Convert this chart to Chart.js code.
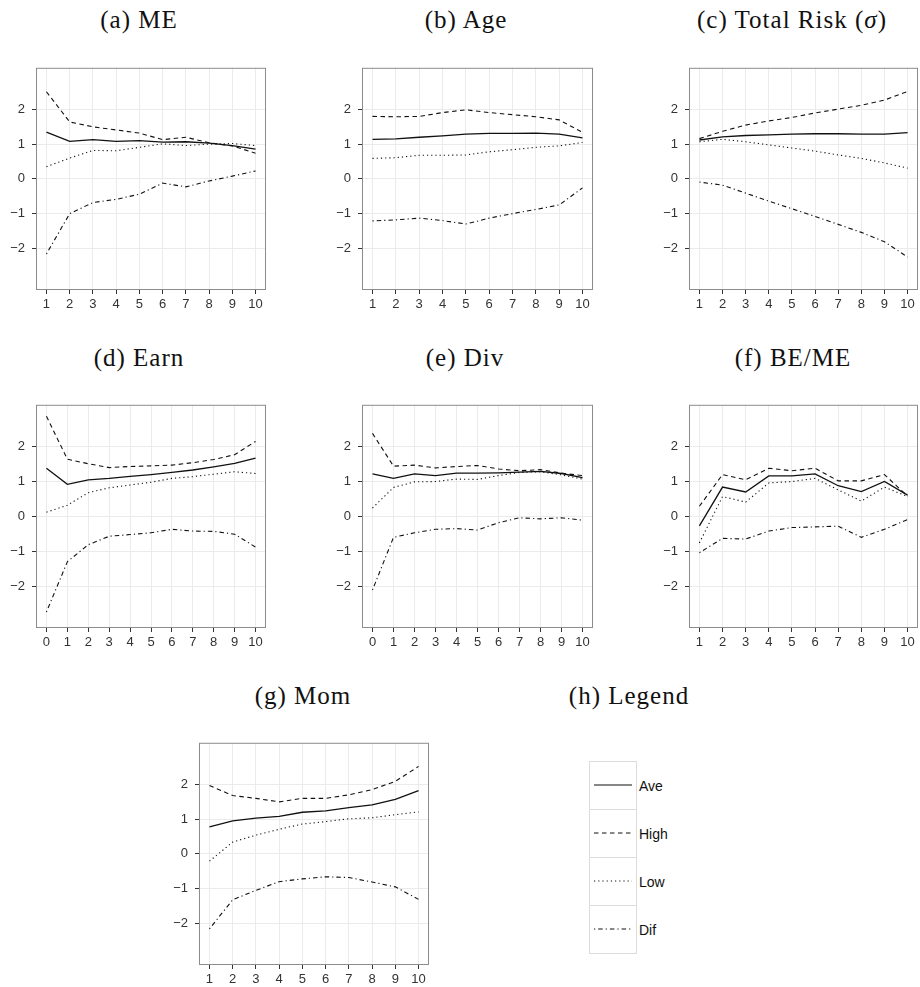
<!DOCTYPE html>
<html>
<head>
<meta charset="utf-8">
<script src="https://cdn.jsdelivr.net/npm/chart.js@4.4.1/dist/chart.umd.min.js"></script>
<style>
body { margin: 0; background: #fff; width: 920px; height: 987px; position: relative; overflow: hidden; }
.panel { position: absolute; }
.title { position: absolute; width: 300px; text-align: center; font-family: "Liberation Serif", serif; font-size: 25px; line-height: 25px; letter-spacing: 1px; color: #111; white-space: nowrap; }
#legendBox { position: absolute; left: 589px; top: 761px; width: 48px; height: 193px; box-sizing: border-box; border: 1px solid #dcdcdc; }
#legendBox div { height: 48px; box-sizing: border-box; border-bottom: 1px solid #dcdcdc; }
#legendBox div:last-child { border-bottom: none; }
.legLine { position: absolute; left: 594px; width: 38px; height: 4px; }
.legText { position: absolute; left: 639px; font-family: "Liberation Sans", Arial, sans-serif; font-size: 14px; line-height: 16px; color: #111; }
</style>
</head>
<body>
<div class="title" style="left:-11px;top:7px">(a) ME</div>
<div class="title" style="left:316px;top:7px">(b) Age</div>
<div class="title" style="left:642px;top:7px">(c) Total Risk (<i>σ</i>)</div>
<div class="title" style="left:-11px;top:345px">(d) Earn</div>
<div class="title" style="left:315px;top:345px">(e) Div</div>
<div class="title" style="left:643px;top:345px">(f) BE/ME</div>
<div class="title" style="left:153px;top:683px">(g) Mom</div>
<div class="title" style="left:479px;top:683px">(h) Legend</div>

<div id="legendBox"><div></div><div></div><div></div><div></div></div>
<svg class="legLine" style="top:783px"><line x1="0" y1="2" x2="38" y2="2" stroke="#111" stroke-width="1.2"/></svg>
<svg class="legLine" style="top:831px"><line x1="0" y1="2" x2="38" y2="2" stroke="#111" stroke-width="1.1" stroke-dasharray="4.5 3.5"/></svg>
<svg class="legLine" style="top:879px"><line x1="0" y1="2" x2="38" y2="2" stroke="#111" stroke-width="1.1" stroke-dasharray="1.2 3"/></svg>
<svg class="legLine" style="top:927px"><line x1="0" y1="2" x2="38" y2="2" stroke="#111" stroke-width="1.1" stroke-dasharray="1.2 3 4.5 3"/></svg>
<div class="legText" style="top:778px">Ave</div>
<div class="legText" style="top:826px">High</div>
<div class="legText" style="top:874px">Low</div>
<div class="legText" style="top:922px">Dif</div>

<script>
// deciles / portfolio numbers on the x axis
var xTen = [1, 2, 3, 4, 5, 6, 7, 8, 9, 10];
var xEleven = [0, 1, 2, 3, 4, 5, 6, 7, 8, 9, 10];
var yTicks = [-2, -1, 0, 1, 2];

// (a) ME
var meAve  = [1.35, 1.08, 1.13, 1.08, 1.10, 1.06, 1.07, 1.03, 0.96, 0.86];
var meHigh = [2.51, 1.64, 1.50, 1.41, 1.32, 1.13, 1.20, 1.04, 0.95, 0.74];
var meLow  = [0.35, 0.60, 0.82, 0.81, 0.91, 1.01, 0.96, 1.00, 1.02, 0.96];
var meDif  = [-2.16, -1.00, -0.68, -0.59, -0.44, -0.12, -0.23, -0.06, 0.08, 0.23];

// (b) Age
var ageAve  = [1.14, 1.15, 1.20, 1.24, 1.29, 1.31, 1.31, 1.32, 1.29, 1.18];
var ageHigh = [1.80, 1.79, 1.80, 1.91, 1.99, 1.91, 1.85, 1.79, 1.70, 1.34];
var ageLow  = [0.59, 0.61, 0.68, 0.68, 0.69, 0.78, 0.84, 0.91, 0.95, 1.05];
var ageDif  = [-1.21, -1.18, -1.13, -1.20, -1.30, -1.13, -1.00, -0.88, -0.75, -0.26];

// (c) Total Risk
var riskAve  = [1.12, 1.21, 1.25, 1.27, 1.29, 1.30, 1.30, 1.29, 1.29, 1.33];
var riskHigh = [1.16, 1.37, 1.55, 1.67, 1.77, 1.90, 2.01, 2.12, 2.27, 2.52];
var riskLow  = [1.07, 1.14, 1.07, 0.98, 0.89, 0.80, 0.69, 0.59, 0.46, 0.31];
var riskDif  = [-0.09, -0.18, -0.41, -0.64, -0.86, -1.08, -1.31, -1.54, -1.81, -2.25];

// (d) Earn
var earnAve  = [1.38, 0.92, 1.05, 1.09, 1.15, 1.20, 1.26, 1.33, 1.42, 1.52, 1.67];
var earnHigh = [2.87, 1.64, 1.51, 1.40, 1.43, 1.45, 1.47, 1.54, 1.63, 1.77, 2.15];
var earnLow  = [0.12, 0.32, 0.68, 0.82, 0.90, 0.98, 1.09, 1.14, 1.21, 1.28, 1.23];
var earnDif  = [-2.74, -1.30, -0.81, -0.57, -0.52, -0.47, -0.37, -0.42, -0.43, -0.51, -0.88];

// (e) Div
var divAve  = [1.22, 1.09, 1.22, 1.17, 1.24, 1.24, 1.25, 1.27, 1.29, 1.23, 1.11];
var divHigh = [2.38, 1.44, 1.47, 1.39, 1.43, 1.46, 1.36, 1.31, 1.34, 1.24, 1.17];
var divLow  = [0.24, 0.83, 0.99, 1.00, 1.07, 1.06, 1.17, 1.26, 1.28, 1.19, 1.07];
var divDif  = [-2.11, -0.60, -0.47, -0.37, -0.35, -0.39, -0.18, -0.04, -0.07, -0.04, -0.11];

// (f) BE/ME
var bmAve  = [-0.27, 0.84, 0.70, 1.16, 1.16, 1.22, 0.88, 0.71, 1.00, 0.61];
var bmHigh = [0.29, 1.20, 1.05, 1.38, 1.31, 1.38, 1.02, 1.02, 1.20, 0.58];
var bmLow  = [-0.76, 0.57, 0.41, 0.96, 1.00, 1.09, 0.76, 0.44, 0.84, 0.57];
var bmDif  = [-1.04, -0.63, -0.65, -0.42, -0.32, -0.30, -0.28, -0.60, -0.37, -0.09];

// (g) Mom
var momAve  = [0.78, 0.95, 1.03, 1.08, 1.20, 1.24, 1.33, 1.41, 1.57, 1.82];
var momHigh = [1.97, 1.68, 1.60, 1.50, 1.60, 1.60, 1.70, 1.85, 2.09, 2.52];
var momLow  = [-0.21, 0.34, 0.54, 0.71, 0.86, 0.93, 1.01, 1.04, 1.13, 1.21];
var momDif  = [-2.16, -1.32, -1.05, -0.80, -0.72, -0.66, -0.68, -0.81, -0.95, -1.31];

Chart.defaults.font.family = '"Liberation Sans", Arial, sans-serif';
Chart.defaults.font.size = 13;
Chart.defaults.color = '#333';

var panelBox = {
    id: 'panelBox',
    afterDraw: function (chart) {
        var a = chart.chartArea, c = chart.ctx;
        c.save();
        c.strokeStyle = '#8c8c8c';
        c.lineWidth = 1;
        c.strokeRect(a.left + 0.5, a.top + 0.5, a.right - a.left - 1, a.bottom - a.top - 1);
        c.restore();
    }
};

function pts(xs, ys) {
    return xs.map(function (x, i) { return {x: x, y: ys[i]}; });
}

function drawPanel(xs, ave, high, low, dif, left, top, w, h) {
    var div = document.createElement('div');
    div.className = 'panel';
    div.style.left = (left - 36) + 'px';
    div.style.top = (top - 1) + 'px';
    div.style.width = (w + 37) + 'px';
    div.style.height = (h + 27) + 'px';
    var cv = document.createElement('canvas');
    div.appendChild(cv);
    document.body.appendChild(div);

    var pad = 0.05 * (xs[xs.length - 1] - xs[0]);
    var lines = [
        {data: pts(xs, ave),  borderDash: [],             borderWidth: 1.3},
        {data: pts(xs, high), borderDash: [4.5, 3.5],     borderWidth: 1.1},
        {data: pts(xs, low),  borderDash: [1.2, 3],       borderWidth: 1.1},
        {data: pts(xs, dif),  borderDash: [1.2, 3, 4.5, 3], borderWidth: 1.1}
    ];
    lines.forEach(function (d) {
        d.borderColor = '#111';
        d.pointRadius = 0;
        d.tension = 0;
        d.fill = false;
    });

    new Chart(cv, {
        type: 'line',
        data: {datasets: lines},
        plugins: [panelBox],
        options: {
            responsive: true,
            maintainAspectRatio: false,
            animation: false,
            layout: {padding: {top: 1, right: 1, left: 0, bottom: 0}},
            plugins: {legend: {display: false}, tooltip: {enabled: false}},
            scales: {
                x: {
                    type: 'linear',
                    min: xs[0] - pad,
                    max: xs[xs.length - 1] + pad,
                    afterBuildTicks: function (s) { s.ticks = xs.map(function (v) { return {value: v}; }); },
                    afterFit: function (s) { s.height = 26; },
                    grid: {color: '#ebebeb', lineWidth: 1, tickColor: '#333', tickLength: 4},
                    border: {display: false},
                    ticks: {autoSkip: false, maxRotation: 0, padding: 3, color: '#333',
                            callback: function (v) { return String(v); }}
                },
                y: {
                    min: -3.2,
                    max: 3.2,
                    afterBuildTicks: function (s) { s.ticks = yTicks.map(function (v) { return {value: v}; }); },
                    afterFit: function (s) { s.width = 36; },
                    grid: {color: '#ebebeb', lineWidth: 1, tickColor: '#333', tickLength: 4},
                    border: {display: false},
                    ticks: {padding: 7, color: '#333',
                            callback: function (v) { return v < 0 ? '\u2212' + Math.abs(v) : String(v); }}
                }
            }
        }
    });
}

drawPanel(xTen, meAve, meHigh, meLow, meDif, 36, 54, 230, 236);
drawPanel(xTen, ageAve, ageHigh, ageLow, ageDif, 362, 54, 231, 236);
drawPanel(xTen, riskAve, riskHigh, riskLow, riskDif, 689, 54, 229, 236);
drawPanel(xEleven, earnAve, earnHigh, earnLow, earnDif, 36, 391, 230, 237);
drawPanel(xEleven, divAve, divHigh, divLow, divDif, 362, 391, 231, 237);
drawPanel(xTen, bmAve, bmHigh, bmLow, bmDif, 689, 391, 229, 237);
drawPanel(xTen, momAve, momHigh, momLow, momDif, 199, 729, 230, 236);
</script>
</body>
</html>
